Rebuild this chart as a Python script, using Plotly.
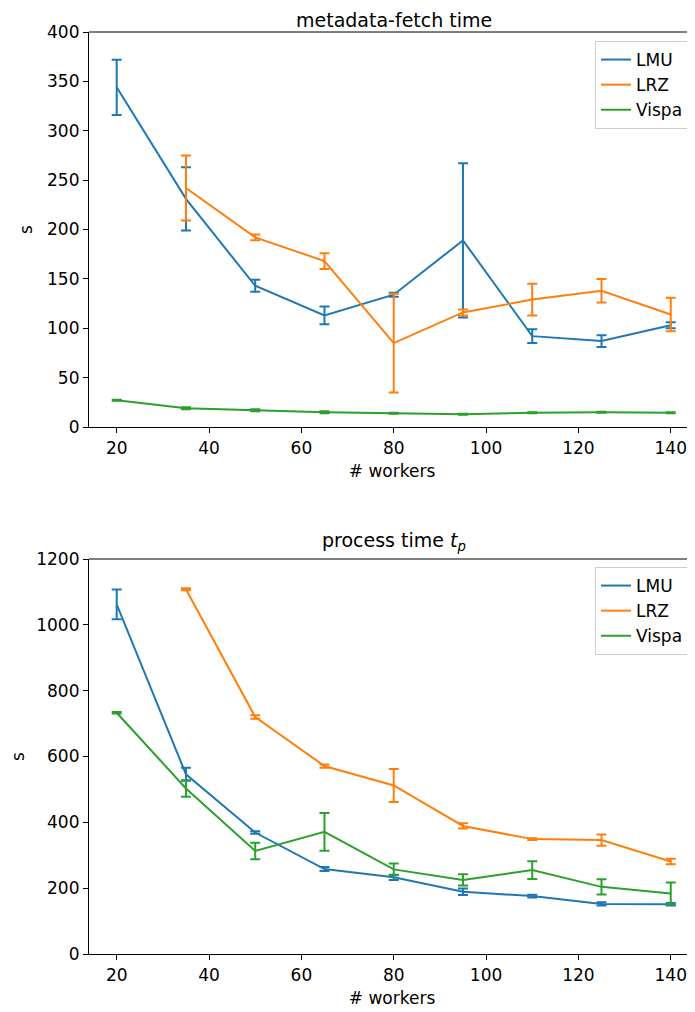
import plotly.graph_objects as go

workers = [20, 35, 50, 65, 80, 95, 110, 125, 140]
workers_lrz = [35, 50, 65, 80, 95, 110, 125, 140]

# metadata-fetch time (s)
meta_lmu = [344, 231, 143, 113, 134, 189, 92, 87, 103]
meta_lmu_err = [28, 32, 6, 9, 2, 78, 7, 6, 3]
meta_lrz = [242, 192, 168, 85, 116, 129, 138, 114]
meta_lrz_err = [33, 3, 8, 50, 3, 16, 12, 17]
meta_vispa = [27, 19, 17, 15, 14, 13, 14.5, 15, 14.5]
meta_vispa_err = [0.5, 1, 1, 1, 0.5, 0.5, 0.5, 0.5, 0.5]

# process time t_p (s)
proc_lmu = [1062, 546, 369, 258, 233, 189, 176, 152, 151]
proc_lmu_err = [45, 20, 4, 6, 8, 10, 4, 5, 4]
proc_lrz = [1108, 720, 571, 512, 389, 349, 346, 281]
proc_lrz_err = [3, 5, 5, 50, 8, 3, 17, 8]
proc_vispa = [733, 503, 313, 371, 257, 225, 255, 204, 184]
proc_vispa_err = [2, 25, 25, 57, 18, 17, 27, 23, 33]

names = ["LMU", "LRZ", "Vispa"]
colors = ["#1f77b4", "#ff7f0e", "#2ca02c"]

FONT = "DejaVu Sans"
fig = go.Figure()

def add(x, y, err, name, color, xa, ya, legend):
    fig.add_trace(go.Scatter(
        x=x, y=y, mode="lines", name=name,
        line=dict(color=color, width=2),
        error_y=dict(type="data", array=err, visible=True, color=color,
                     thickness=2, width=5),
        xaxis=xa, yaxis=ya, legend=legend))

for xs, ys, es, n, c in zip([workers, workers_lrz, workers],
                            [meta_lmu, meta_lrz, meta_vispa],
                            [meta_lmu_err, meta_lrz_err, meta_vispa_err],
                            names, colors):
    add(xs, ys, es, n, c, "x", "y", "legend")

for xs, ys, es, n, c in zip([workers, workers_lrz, workers],
                            [proc_lmu, proc_lrz, proc_vispa],
                            [proc_lmu_err, proc_lrz_err, proc_vispa_err],
                            names, colors):
    add(xs, ys, es, n, c, "x2", "y2", "legend2")

# page has an 8px body margin; work in page coordinates and subtract it
OFF = 8
W, H = 695 - OFF, 1012 - OFF
L = 89 - OFF
T = 32 - OFF
B = H - (954 - OFF)
plot_h = H - T - B
top_dom = [(954 - 427) / plot_h, 1]
bot_dom = [0, (954 - 559) / plot_h]
x_ticks = [20, 40, 60, 80, 100, 120, 140]
x_range = [14, 14 + (695 - 89) / 4.617]

axis_common = dict(showline=True, linecolor="black", linewidth=1.2,
                   ticks="outside", ticklen=5, tickwidth=1.2, tickcolor="black",
                   showgrid=False, zeroline=False, mirror=False,
                   tickfont=dict(family=FONT, size=17, color="black"))

legend_common = dict(xanchor="right", yanchor="top", x=(689 - 89) / 606,
                     bgcolor="rgba(255,255,255,0.8)", bordercolor="#cccccc",
                     borderwidth=1, font=dict(family=FONT, size=17, color="black"))

title_font = dict(family=FONT, size=17, color="black")

fig.update_layout(
    width=W, height=H,
    margin=dict(l=L, r=0, t=T, b=B),
    plot_bgcolor="white", paper_bgcolor="white",
    font=dict(family=FONT, size=17, color="black"),
    xaxis=dict(domain=[0, 1], anchor="y", range=x_range, tickvals=x_ticks,
               title=dict(text="# workers", standoff=8, font=title_font),
               **axis_common),
    yaxis=dict(domain=top_dom, anchor="x", range=[0, 400],
               tickvals=list(range(0, 401, 50)),
               title=dict(text="s", standoff=10, font=title_font),
               **axis_common),
    xaxis2=dict(domain=[0, 1], anchor="y2", range=x_range, tickvals=x_ticks,
                title=dict(text="# workers", standoff=8, font=title_font),
                **axis_common),
    yaxis2=dict(domain=bot_dom, anchor="x2", range=[0, 1200],
                tickvals=list(range(0, 1201, 200)),
                title=dict(text="s", standoff=10, font=title_font),
                **axis_common),
    legend=dict(y=(954 - 41) / plot_h, tracegroupgap=0, **legend_common),
    legend2=dict(y=(954 - 567) / plot_h, tracegroupgap=0, **legend_common),
    annotations=[
        dict(text="metadata-fetch time", x=(393.5 - 89) / 606, y=1,
             xref="paper", yref="paper",
             xanchor="center", yanchor="bottom", yshift=-1, showarrow=False,
             font=dict(family=FONT, size=19, color="black")),
        dict(text="process time <i>t</i><sub><i>p</i></sub>", x=(393.5 - 89) / 606,
             y=bot_dom[1], xref="paper", yref="paper", xanchor="center",
             yanchor="bottom", yshift=3, showarrow=False,
             font=dict(family=FONT, size=19, color="black")),
    ],
    shapes=[
        dict(type="line", xref="paper", yref="paper", x0=0, x1=1,
             y0=top_dom[1], y1=top_dom[1], line=dict(color="black", width=1.2)),
        dict(type="line", xref="paper", yref="paper", x0=0, x1=1,
             y0=bot_dom[1], y1=bot_dom[1], line=dict(color="black", width=1.2)),
    ],
)

fig.write_html("out.html")
